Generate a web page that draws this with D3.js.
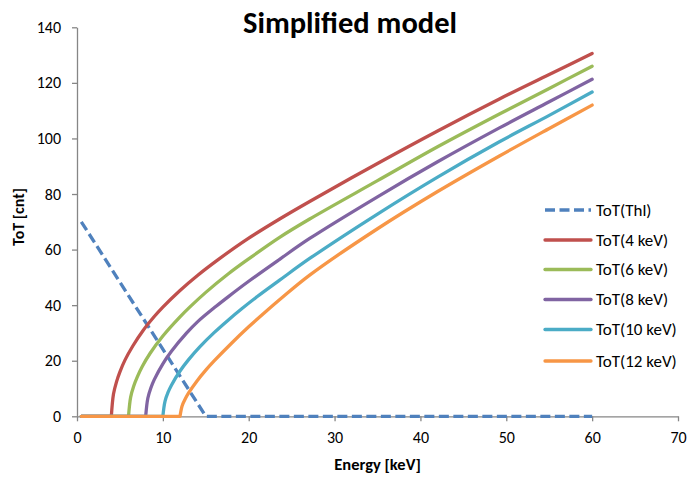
<!DOCTYPE html>
<html>
<head>
<meta charset="utf-8">
<script src="https://cdn.jsdelivr.net/npm/d3@7"></script>
<style>
  html, body { margin: 0; padding: 0; background: #fff; }
  svg { display: block; font-family: Carlito, Lato, "Open Sans", sans-serif; }
</style>
</head>
<body>
<svg id="chart" width="688" height="477"></svg>
<script>
// ---- Data ----
const chartTitle = "Simplified model";
const xTitle = "Energy [keV]";
const yTitle = "ToT [cnt]";
const xTicks = [0, 10, 20, 30, 40, 50, 60, 70];
const yTicks = [0, 20, 40, 60, 80, 100, 120, 140];

const seriesNames = ["ToT(Thl)", "ToT(4 keV)", "ToT(6 keV)", "ToT(8 keV)", "ToT(10 keV)", "ToT(12 keV)"];
const seriesColors = ["#4F81BD", "#C0504D", "#9BBB59", "#8064A2", "#4BACC6", "#F79646"];

const energyThl = [0.5, 15, 60];
const totThl    = [70, 0, 0];

const energy4 = [0.5, 4, 4.25, 4.6, 5, 5.6, 6.5, 7.7, 9, 10, 12, 14, 16.4, 19.7, 23.6, 27.1, 35, 42, 49.2, 55, 60];
const tot4    = [0, 0, 8, 12.4, 16, 20.3, 25.3, 30.9, 35.9, 39.3, 45.3, 50.6, 56.3, 63.5, 71.0, 77.3, 91.0, 102.7, 114.2, 123.0, 130.6];

const energy6 = [0.5, 6, 6.25, 6.6, 7, 7.6, 8.5, 10, 12, 13.1, 15, 17.6, 19.7, 23.6, 27.1, 35, 42, 49.2, 55, 60];
const tot6    = [0, 0, 6.9, 10.8, 14.0, 17.9, 22.6, 28.9, 35.8, 39.2, 44.6, 51.2, 56.0, 64.4, 71.0, 84.8, 97.0, 108.8, 118.0, 126.0];

const energy8 = [0.5, 8, 8.25, 8.6, 9, 10, 11, 12.75, 14, 16.2, 17.6, 20, 23.6, 27.1, 35, 42, 49.2, 55, 60];
const tot8    = [0, 0, 6.5, 10.2, 13.2, 18.9, 23.4, 29.9, 33.9, 39.6, 43.0, 48.6, 56.5, 64.0, 79.0, 91.6, 103.8, 113.2, 121.3];

const energy10 = [0.5, 10, 10.25, 10.6, 11, 12, 13, 14.3, 16, 17.6, 19.15, 21, 23.6, 27.1, 35, 42, 49.2, 55, 60];
const tot10    = [0, 0, 5.4, 8.6, 11.2, 16.3, 20.4, 25.0, 30.2, 34.6, 38.6, 43.1, 49.0, 56.8, 72.8, 86.1, 98.8, 108.3, 116.7];

const energy12 = [0.5, 12, 12.25, 12.6, 13, 14, 15, 16, 18, 20, 22, 24, 27.1, 35, 42, 49.2, 55, 60];
const tot12    = [0, 0, 3.8, 6.2, 8.4, 12.8, 16.6, 20.0, 26.3, 32.2, 37.7, 43.0, 50.8, 67.5, 80.9, 93.7, 103.6, 112.0];

const seriesEnergies = [energyThl, energy4, energy6, energy8, energy10, energy12];
const seriesValues   = [totThl, tot4, tot6, tot8, tot10, tot12];

// ---- Chart ----
const svg = d3.select("#chart");
const x = d3.scaleLinear().domain([0, 70]).range([77, 678]);
const y = d3.scaleLinear().domain([0, 140]).range([416.3, 27.3]);
const axisColor = "#868686";

// Axes
const gx = svg.append("g").attr("transform", `translate(0,${y(0)})`)
  .call(d3.axisBottom(x).tickValues(xTicks).tickSize(5).tickSizeOuter(0).tickPadding(10));
const gy = svg.append("g").attr("transform", `translate(${x(0)},0)`)
  .call(d3.axisLeft(y).tickValues(yTicks).tickSize(5).tickSizeOuter(0).tickPadding(11));
[gx, gy].forEach(g => {
  g.select(".domain").attr("stroke", axisColor).attr("stroke-width", 1.3);
  g.selectAll(".tick line").attr("stroke", axisColor).attr("stroke-width", 1.3);
  g.selectAll(".tick text").attr("fill", "#000").style("font-size", "16px")
    .style("font-family", "Carlito, Lato, sans-serif");
});

// Series lines
const lineLin = d3.line().x(d => x(d[0])).y(d => y(d[1]));
const lineCurve = d3.line().x(d => x(d[0])).y(d => y(d[1])).curve(d3.curveCatmullRom.alpha(0.5));

seriesEnergies.forEach((es, i) => {
  const pts = es.map((e, j) => [e, seriesValues[i][j]]);
  let d;
  if (i === 0) {
    d = lineLin(pts);
  } else {
    const k = pts.findIndex(p => p[1] > 0) - 1; // threshold point
    const flat = pts.slice(0, k + 1);
    const rise = pts.slice(k);
    d = lineLin(flat) + lineCurve(rise).replace(/^M[^LC]*/, "");
  }
  svg.append("path")
    .attr("d", d)
    .attr("fill", "none")
    .attr("stroke", seriesColors[i])
    .attr("stroke-width", 3.3)
    .attr("stroke-linejoin", "round")
    .attr("stroke-linecap", i === 0 ? "butt" : "round")
    .attr("stroke-dasharray", i === 0 ? "10,4.5" : null);
});

// Title
svg.append("text").attr("x", 350).attr("y", 33).attr("text-anchor", "middle")
  .style("font-size", "30.5px").style("font-weight", "bold").attr("fill", "#000")
  .text(chartTitle);

// Axis titles
svg.append("text").attr("x", 377.5).attr("y", 470).attr("text-anchor", "middle")
  .style("font-size", "16.5px").style("font-weight", "bold").attr("fill", "#000")
  .text(xTitle);
svg.append("text").attr("transform", "translate(23.5,217) rotate(-90)").attr("text-anchor", "middle")
  .style("font-size", "16px").style("font-weight", "bold").attr("fill", "#000")
  .text(yTitle);

// Legend
const legend = svg.append("g");
const legendY = [210, 240, 269.5, 299.5, 329.5, 361];
seriesNames.forEach((name, i) => {
  const g = legend.append("g").attr("transform", `translate(0,${legendY[i]})`);
  g.append("line").attr("x1", 545).attr("x2", 591).attr("y1", 0).attr("y2", 0)
    .attr("stroke", seriesColors[i]).attr("stroke-width", 3.3)
    .attr("stroke-linecap", i === 0 ? "butt" : "round")
    .attr("stroke-dasharray", i === 0 ? "10,4.5" : null);
  g.append("text").attr("x", 596).attr("y", 0).attr("dy", "0.35em")
    .style("font-size", "17px").attr("fill", "#000").text(name);
});
</script>
</body>
</html>
